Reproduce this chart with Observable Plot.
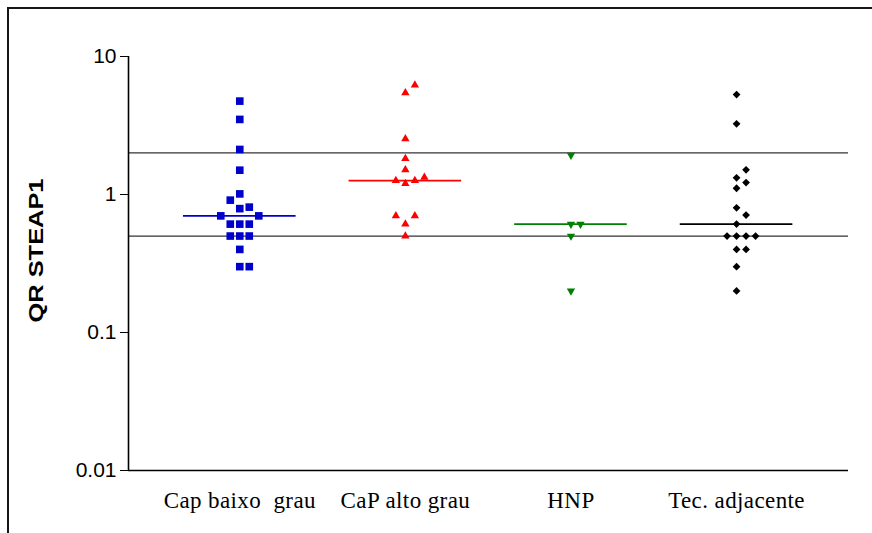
<!DOCTYPE html>
<html>
<head>
<meta charset="utf-8">
<script src="https://cdn.jsdelivr.net/npm/d3@7"></script>
<script src="https://cdn.jsdelivr.net/npm/@observablehq/plot@0.6"></script>
<style>
  html, body { margin: 0; padding: 0; background: #fff; }
  #wrap { position: relative; width: 872px; height: 533px; overflow: hidden; }
  #chart { position: absolute; left: 0; top: 0; }
  #frame { position: absolute; left: 7px; top: 7px; right: -10px; bottom: -10px;
           border-top: 2px solid #161616; border-left: 2px solid #161616; pointer-events: none; }
</style>
</head>
<body>
<div id="wrap"><div id="chart"></div><div id="frame"></div></div>
<script>
// ---- data ----
const groups = ["Cap baixo\u00a0 grau", "CaP alto grau", "HNP", "Tec. adjacente"];
const capBaixoGrau = [4.75, 3.5, 2.12, 1.5, 1.01, 0.91, 0.79, 0.81, 0.70, 0.70, 0.61, 0.61, 0.61, 0.50, 0.50, 0.50, 0.40, 0.30, 0.30];
const capAltoGrau  = [6.2, 5.45, 2.53, 1.82, 1.51, 1.33, 1.26, 1.26, 1.20, 0.70, 0.70, 0.61, 0.50];
const hnp          = [1.93, 0.61, 0.61, 0.50, 0.20];
const tecAdjacente = [5.3, 3.25, 1.51, 1.32, 1.22, 1.11, 0.80, 0.71, 0.61, 0.50, 0.50, 0.50, 0.50, 0.40, 0.40, 0.30, 0.20];
const series = [capBaixoGrau, capAltoGrau, hnp, tecAdjacente];
const refLines = [0.5, 2];
const yTicks = [0.01, 0.1, 1, 10];
const yLabel = "QR STEAP1";
const colors = ["#0000CC", "#FF0000", "#008000", "#000000"];

// ---- layout ----
const W = 872, H = 533;
const mL = 128, mR = 24, mT = 56, mB = 63;
const xDomain = [-0.672, 3.676];
const yDomain = [0.01, 10];
const pxPerUnit = (W - mL - mR) / (xDomain[1] - xDomain[0]);
const pxPerDecade = (H - mT - mB) / (Math.log10(yDomain[1]) - Math.log10(yDomain[0]));
const slotUnit = 9.5 / pxPerUnit;       // horizontal spacing between side-by-side symbols
const collide = 10 / pxPerDecade;       // vertical overlap threshold (log units)
const halfMedian = 0.34;                // half-length of the median bar (x units)

// column-scatter arrangement: greedy placement, nearest free slot to the centre
function swarm(values, g) {
  const order = [0, 1, -1, 2, -2, 3, -3, 4, -4];
  const placed = [];
  for (const v of values.slice().sort((a, b) => a - b)) {
    const ly = Math.log10(v);
    for (const s of order) {
      if (!placed.some(p => p.slot === s && Math.abs(p.ly - ly) < collide)) {
        placed.push({group: g, value: v, slot: s, ly});
        break;
      }
    }
  }
  return placed;
}
const points = series.map((vals, g) => swarm(vals, g));
const medians = series.map((vals, g) => ({group: g, median: d3.median(vals)}));

const invTriangle = {
  draw(context, size) {
    const y = -Math.sqrt(size / (Math.sqrt(3) * 3));
    context.moveTo(0, -y * 2);
    context.lineTo(-Math.sqrt(3) * y, y);
    context.lineTo(Math.sqrt(3) * y, y);
    context.closePath();
  }
};
const symbols = ["square", "triangle", invTriangle, "diamond2"];
const radii = [4.3, 3.1, 3.1, 3.5];

const marks = [
  Plot.ruleY(refLines, {stroke: "#333", strokeWidth: 1.3}),
  Plot.ruleX([xDomain[0]], {stroke: "#000", strokeWidth: 1.6}),
  Plot.ruleY([yDomain[0]], {stroke: "#000", strokeWidth: 1.6})
];
series.forEach((_, g) => {
  marks.push(Plot.ruleY([medians[g]], {
    y: "median", x1: d => d.group - halfMedian, x2: d => d.group + halfMedian,
    stroke: colors[g], strokeWidth: 1.6
  }));
  marks.push(Plot.dot(points[g], {
    x: d => d.group + d.slot * slotUnit, y: "value",
    symbol: symbols[g], r: radii[g], fill: colors[g], stroke: "none"
  }));
});
marks.push(Plot.text(groups, {
  x: (d, i) => i, frameAnchor: "bottom", dy: 30, lineAnchor: "middle", textAnchor: "middle",
  text: d => d, fontFamily: "'Liberation Serif', 'Times New Roman', serif", fontSize: 23, fill: "#000"
}));
marks.push(Plot.text([yLabel], {
  frameAnchor: "left", dx: -92.5, dy: -13, rotate: -90, textAnchor: "middle", lineAnchor: "middle",
  text: d => d, fontWeight: "bold", fontSize: 21, fontFamily: "'Liberation Sans', Arial, sans-serif", fill: "#000"
}));

const chart = Plot.plot({
  width: W, height: H,
  marginLeft: mL, marginRight: mR, marginTop: mT, marginBottom: mB,
  style: {fontFamily: "'Liberation Sans', Arial, sans-serif", fontSize: "21px", color: "#000", background: "transparent", overflow: "visible"},
  x: {domain: xDomain, axis: null},
  y: {type: "log", domain: yDomain, ticks: yTicks, tickFormat: d => String(d), tickSize: 8, tickPadding: 4, label: null},
  marks
});
document.getElementById("chart").appendChild(chart);

// text fine-tuning
d3.select(chart).selectAll("text").each(function() {
  const t = this.textContent;
  if (t === yLabel) {
    d3.select(this).attr("textLength", 144).attr("lengthAdjust", "spacingAndGlyphs");
  } else if (groups.includes(t)) {
    d3.select(this).style("letter-spacing", "0.4px");
  }
});
</script>
</body>
</html>
